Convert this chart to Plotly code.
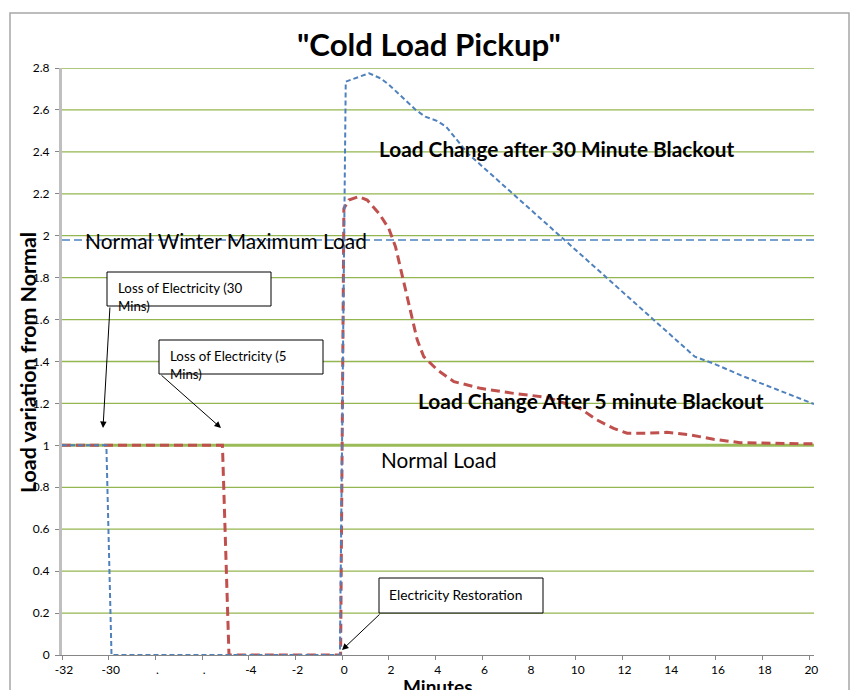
import plotly.graph_objects as go

# ---------------- data ----------------
# x positions are in axis-slot units: ticks every 2 units, labelled below
tick_pos = [-12, -10, -8, -6, -4, -2, 0, 2, 4, 6, 8, 10, 12, 14, 16, 18, 20]
tick_labels = ["-32", "-30", ".", ".", "-4", "-2", "0", "2", "4", "6", "8",
               "10", "12", "14", "16", "18", "20"]

y_ticks = [0, 0.2, 0.4, 0.6, 0.8, 1, 1.2, 1.4, 1.6, 1.8, 2, 2.2, 2.4, 2.6, 2.8]
y_tick_labels = ["0", "0.2", "0.4", "0.6", "0.8", "1", "1.2", "1.4", "1.6",
                 "1.8", "2", "2.2", "2.4", "2.6", "2.8"]

# Load after 30 minute blackout (blue short dashes)
x30 = [-12, -10.1, -9.88, -0.1, 0.15, 1.15, 1.65, 2.0, 3.15, 3.55, 4.05,
       4.45, 4.85, 5.4, 15.1, 15.9, 17.2, 20.2]
y30 = [1, 1, 0, 0, 2.735, 2.775, 2.75, 2.72, 2.60, 2.568, 2.548, 2.52,
       2.465, 2.39, 1.423, 1.39, 1.328, 1.197]

# Load after 5 minute blackout (red long dashes)
x5 = [-12, -5.13, -4.85, -0.07, 0.07, 0.28, 0.71, 1.07, 1.57, 1.99, 2.28,
      2.57, 3.0, 3.21, 3.49, 4.07, 4.78, 5.92, 7.34, 8.77, 10.2, 10.91,
      11.62, 12.2, 13.05, 13.9, 14.9, 15.9, 17.04, 18.04, 20.2]
y5 = [1, 1, 0, 0, 2.13, 2.17, 2.187, 2.17, 2.107, 2.035, 1.948, 1.805,
      1.598, 1.503, 1.423, 1.36, 1.304, 1.272, 1.248, 1.229, 1.175, 1.121,
      1.081, 1.058, 1.058, 1.062, 1.05, 1.029, 1.013, 1.01, 1.007]

# reference levels
x_ref = [-12, 20.2]
normal_load = [1, 1]
winter_max = [1.98, 1.98]

# ---------------- layout helpers ----------------
W, H = 853, 690
L, R, T, B = 62, 814, 68, 655   # plot area in pixels


def px(x):
    return (x - L) / (R - L)


def py(y):
    return (B - y) / (B - T)


FONT = "Lato, 'Open Sans', sans-serif"
GRID = "#94B650"

fig = go.Figure()
fig.add_trace(go.Scatter(x=x_ref, y=normal_load, mode="lines",
                         line=dict(color="#9BBB59", width=3),
                         hoverinfo="skip", showlegend=False))
fig.add_trace(go.Scatter(x=x_ref, y=winter_max, mode="lines",
                         line=dict(color="#4F81BD", width=1.5, dash="8px,4px"),
                         showlegend=False))
fig.add_trace(go.Scatter(x=x5, y=y5, mode="lines",
                         line=dict(color="#C0504D", width=3, dash="9px,5px"),
                         showlegend=False))
fig.add_trace(go.Scatter(x=x30, y=y30, mode="lines",
                         line=dict(color="#4F81BD", width=2, dash="5px,3px"),
                         showlegend=False))

# horizontal green gridlines, one per y tick
shapes = [dict(type="line", xref="paper", yref="y", x0=0, x1=1, y0=v, y1=v,
               line=dict(color=GRID, width=1.3), layer="below")
          for v in y_ticks[1:]]

shapes += [
    # outer chart border
    dict(type="rect", xref="paper", yref="paper", x0=px(10), x1=px(849),
         y0=py(705), y1=py(13), line=dict(color="#A6A6A6", width=1.5)),
    # callout boxes
    dict(type="rect", xref="paper", yref="paper", x0=px(107), x1=px(271),
         y0=py(306), y1=py(272), line=dict(color="black", width=1),
         fillcolor="white", layer="above"),
    dict(type="rect", xref="paper", yref="paper", x0=px(159), x1=px(323),
         y0=py(374), y1=py(340), line=dict(color="black", width=1),
         fillcolor="white", layer="above"),
    dict(type="rect", xref="paper", yref="paper", x0=px(379), x1=px(543),
         y0=py(613), y1=py(578), line=dict(color="black", width=1),
         fillcolor="white", layer="above"),
]


def txt(text, x, y, size, bold=False, xanchor="left", angle=0):
    return dict(text=("<b>%s</b>" % text) if bold else text,
                xref="paper", yref="paper", x=px(x), y=py(y),
                xanchor=xanchor, yanchor="middle", showarrow=False,
                textangle=angle,
                font=dict(family=FONT, size=size, color="black"))


def arrow(hx, hy, tx, ty):
    return dict(text="", xref="paper", yref="paper", x=px(hx), y=py(hy),
                ax=tx - hx, ay=ty - hy, axref="pixel", ayref="pixel",
                showarrow=True, arrowhead=2, arrowsize=1.3, arrowwidth=1,
                arrowcolor="black")


annotations = [
    txt('"Cold Load Pickup"', 429, 43.5, 31.2, bold=True, xanchor="center"),
    txt("Load variation from Normal", 28, 363, 21.4, bold=True,
        xanchor="center", angle=-90),
    txt("Minutes", 438, 686, 19, bold=True, xanchor="center"),
    txt("Normal Winter Maximum Load", 83, 240, 20.9),
    txt("Load Change after 30 Minute Blackout", 377, 148.5, 20.8, bold=True),
    txt("Load Change After 5 minute Blackout", 416, 400.5, 20.9, bold=True),
    txt("Normal Load", 379, 460, 20.7),
    txt("Loss of Electricity (30", 116, 288, 13.3),
    txt("Mins)", 116, 306, 13.3),
    txt("Loss of Electricity (5", 168, 356, 13.3),
    txt("Mins)", 168, 374, 13.3),
    txt("Electricity Restoration", 387, 594, 13.8),
    arrow(103, 428, 110, 306),
    arrow(221, 428, 160, 374),
    arrow(342, 650, 381, 613),
]

fig.update_layout(
    template="none",
    width=W, height=H,
    margin=dict(l=L, r=W - R, t=T, b=H - B, pad=0),
    paper_bgcolor="white", plot_bgcolor="white",
    showlegend=False,
    shapes=shapes, annotations=annotations,
    font=dict(family=FONT, size=12, color="black"),
    xaxis=dict(range=[-12, 20.2], tickmode="array", tickvals=tick_pos,
               ticktext=tick_labels, showgrid=False, zeroline=False,
               showline=True, linecolor="#868686", linewidth=1,
               ticks="outside", ticklen=4, tickcolor="#868686",
               ticklabelshift=2,
               tickfont=dict(family=FONT, size=12, color="black")),
    yaxis=dict(range=[0, 2.8], tickmode="array", tickvals=y_ticks,
               ticktext=y_tick_labels, showgrid=False,
               zeroline=False, showline=True,
               linecolor="#BFBFBF", linewidth=3, ticks="outside", ticklen=4,
               tickcolor="#868686", ticklabelstandoff=3,
               tickfont=dict(family=FONT, size=12, color="black")),
)

fig.write_html("out.html",
               config={"displayModeBar": False},
               post_script="document.body.style.margin='0px';"
                           "document.body.style.overflow='hidden';")
